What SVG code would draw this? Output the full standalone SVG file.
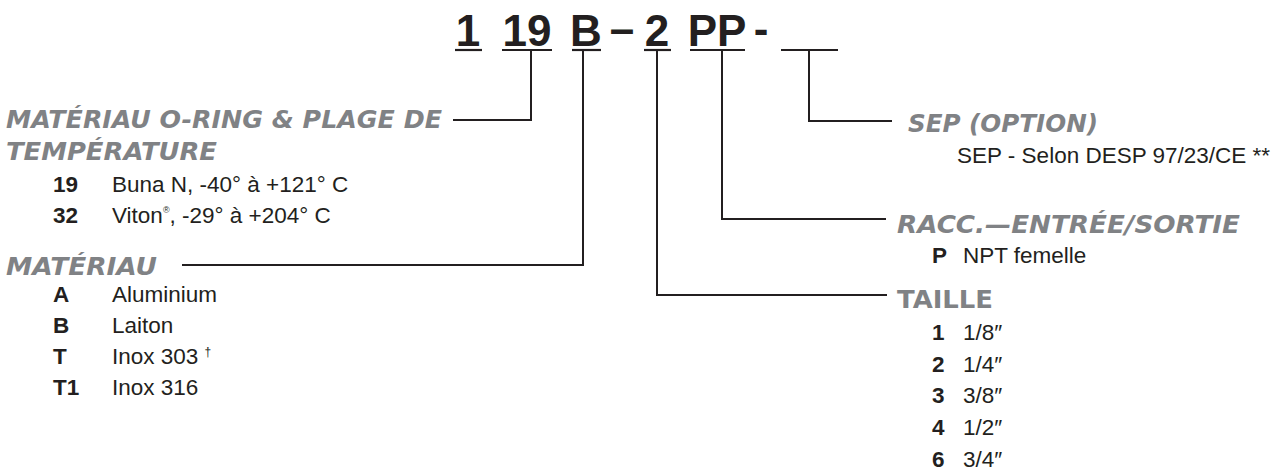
<svg xmlns="http://www.w3.org/2000/svg" width="1278" height="470" viewBox="0 0 1278 470">
<style>
.code{font-family:"Liberation Sans",Arial,sans-serif;font-weight:bold;font-size:44px;fill:#231f20;text-anchor:middle}
.ul{stroke:#231f20;stroke-width:2.2;fill:none}
.con{stroke:#231f20;stroke-width:2;fill:none}
.hd{font-family:"DejaVu Sans",sans-serif;font-weight:bold;font-style:italic;font-size:25px;fill:#808285}
.hdu{font-family:"DejaVu Sans",sans-serif;font-weight:bold;font-size:25px;fill:#808285}
.k{font-family:"Liberation Sans",Arial,sans-serif;font-weight:bold;font-size:22.5px;fill:#231f20}
.v{font-family:"Liberation Sans",Arial,sans-serif;font-size:22.5px;fill:#231f20}
</style>
<rect width="1278" height="470" fill="#ffffff"/>
<g id="code">
<text class="code" x="468" y="46">1</text>
<text class="code" x="527" y="46">19</text>
<text class="code" x="586" y="46">B</text>
<text class="code" x="622" y="44">–</text>
<text class="code" x="657" y="46">2</text>
<text class="code" x="717" y="46">PP</text>
<text class="code" x="761" y="44">-</text>
<line class="ul" x1="455" y1="50" x2="482" y2="50"/>
<line class="ul" x1="502" y1="50" x2="552" y2="50"/>
<line class="ul" x1="572" y1="50" x2="601" y2="50"/>
<line class="ul" x1="644" y1="50" x2="671" y2="50"/>
<line class="ul" x1="690" y1="50" x2="745" y2="50"/>
<line class="ul" x1="781" y1="50" x2="838" y2="50"/>
</g>
<g id="connectors">
<polyline class="con" points="531,50 531,120 453,120"/>
<polyline class="con" points="583,50 583,265 182,265"/>
<polyline class="con" points="657,50 657,295 887,295"/>
<polyline class="con" points="722,50 722,219 886,219"/>
<polyline class="con" points="809,50 809,121 892,121"/>
</g>
<g id="oring">
<text class="hd" x="6" y="128" textLength="436" lengthAdjust="spacingAndGlyphs">MATÉRIAU O-RING &amp; PLAGE DE</text>
<text class="hd" x="6" y="160" textLength="211" lengthAdjust="spacingAndGlyphs">TEMPÉRATURE</text>
<text class="k" x="53" y="192">19</text><text class="v" x="112" y="192">Buna N, -40° à +121° C</text>
<text class="k" x="53" y="223">32</text><text class="v" x="112" y="223">Viton<tspan font-size="9" dy="-10">®</tspan><tspan dy="10">, -29° à +204° C</tspan></text>
</g>
<g id="materiau">
<text class="hd" x="6" y="275" textLength="151" lengthAdjust="spacingAndGlyphs">MATÉRIAU</text>
<text class="k" x="53" y="302">A</text><text class="v" x="112" y="302">Aluminium</text>
<text class="k" x="53" y="333">B</text><text class="v" x="112" y="333">Laiton</text>
<text class="k" x="53" y="364">T</text><text class="v" x="112" y="364">Inox 303 <tspan font-size="12" dy="-8">†</tspan></text>
<text class="k" x="53" y="395">T1</text><text class="v" x="112" y="395">Inox 316</text>
</g>
<g id="sep">
<text class="hd" x="908" y="132" textLength="190" lengthAdjust="spacingAndGlyphs">SEP (OPTION)</text>
<text class="v" x="957" y="163">SEP - Selon DESP 97/23/CE **</text>
</g>
<g id="raccord">
<text class="hd" x="897" y="233" textLength="343" lengthAdjust="spacingAndGlyphs">RACC.—ENTRÉE/SORTIE</text>
<text class="k" x="932" y="263">P</text><text class="v" x="963" y="263">NPT femelle</text>
</g>
<g id="taille">
<text class="hdu" x="897" y="308" textLength="96" lengthAdjust="spacingAndGlyphs">TAILLE</text>
<text class="k" x="932" y="340">1</text><text class="v" x="963" y="340">1/8″</text>
<text class="k" x="932" y="372">2</text><text class="v" x="963" y="372">1/4″</text>
<text class="k" x="932" y="403">3</text><text class="v" x="963" y="403">3/8″</text>
<text class="k" x="932" y="435">4</text><text class="v" x="963" y="435">1/2″</text>
<text class="k" x="932" y="467">6</text><text class="v" x="963" y="467">3/4″</text>
</g>
</svg>
